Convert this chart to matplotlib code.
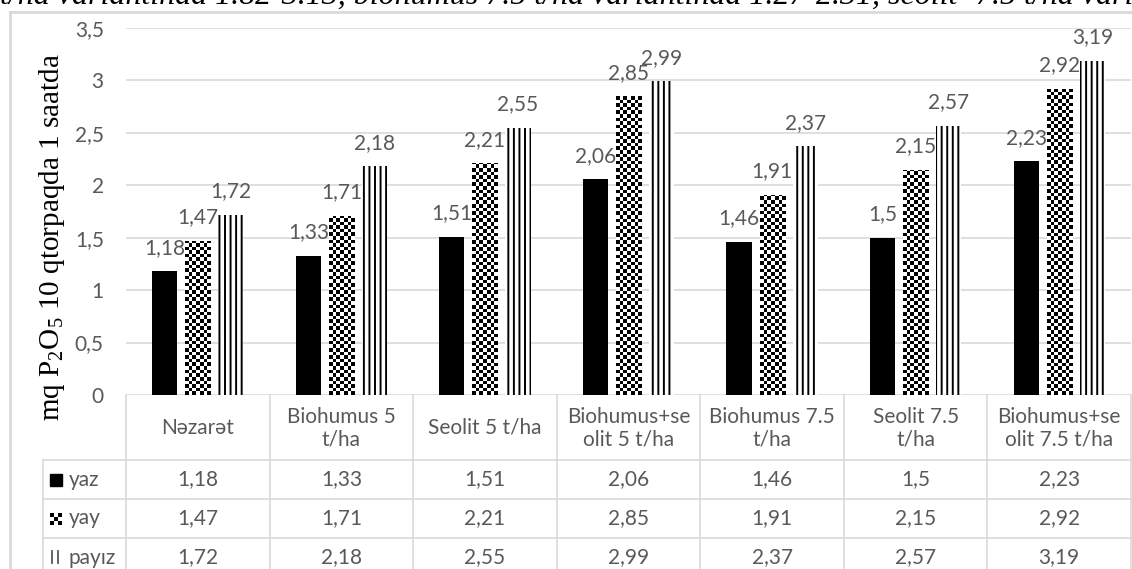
import numpy as np
import matplotlib
matplotlib.use('Agg')
import matplotlib.pyplot as plt
from matplotlib.transforms import blended_transform_factory
from matplotlib.lines import Line2D
from matplotlib.patches import Rectangle

categories = ['Nəzarət', 'Biohumus 5\nt/ha', 'Seolit 5 t/ha', 'Biohumus+se\nolit 5 t/ha',
              'Biohumus 7.5\nt/ha', 'Seolit 7.5\nt/ha', 'Biohumus+se\nolit 7.5 t/ha']
series = ['yaz', 'yay', 'payız']
yaz = [1.18, 1.33, 1.51, 2.06, 1.46, 1.5, 2.23]
yay = [1.47, 1.71, 2.21, 2.85, 1.91, 2.15, 2.92]
payiz = [1.72, 2.18, 2.55, 2.99, 2.37, 2.57, 3.19]
yticks = [0, 0.5, 1, 1.5, 2, 2.5, 3, 3.5]
ylabel = r'mq $\mathregular{P_2O_5}$ 10 qtorpaqda 1 saatda'
top_line = 't/ha variantında 1.82-3.13, biohumus 7.5 t/ha variantında 1.27-2.31, seolit- 7.5 t/ha variantında'

plt.rcParams['font.family'] = ['Lato', 'Open Sans', 'DejaVu Sans']
plt.rcParams['hatch.linewidth'] = 1.4

GRAY = '#595959'
LINE = '#d9d9d9'
FS = 15
W, H = 1132, 569


def fx(px):
    return px / W


def fy(py):
    return 1 - py / H


def fmt(v):
    return ('%g' % v).replace('.', ',')


fig = plt.figure(figsize=(W / 100, H / 100), dpi=100)
ax = fig.add_axes([fx(126), fy(395), (1131 - 126) / W, (395 - 28) / H])

x = np.arange(len(categories))
bw = 0.175
step = 0.23

b1 = ax.bar(x - step, yaz, bw, color='black', zorder=2)
b2 = ax.bar(x, yay, bw, color='white', edgecolor='none', zorder=2)
b3 = ax.bar(x + step, payiz, bw, color='white', edgecolor='black', linewidth=0,
            hatch='|||', zorder=2)

# checkerboard fill for the "yay" bars
cell_y = 3.6 * 3.5 / 367
for rect in b2:
    x0, w, h = rect.get_x(), rect.get_width(), rect.get_height()
    ncol = 7
    nrow = int(np.ceil(h / cell_y))
    arr = np.add.outer(np.arange(nrow), np.arange(ncol)) % 2
    im = ax.imshow(arr, cmap='gray', vmin=0, vmax=1, origin='lower',
                   extent=(x0, x0 + w, 0, nrow * cell_y), aspect='auto',
                   interpolation='nearest', zorder=2)
    im.set_clip_path(rect)

for bars, vals in zip([b1, b2, b3], [yaz, yay, payiz]):
    for rect, v in zip(bars, vals):
        ax.annotate(fmt(v), (rect.get_x() + rect.get_width() / 2, v),
                    xytext=(0, 12.5), textcoords='offset points',
                    ha='center', va='baseline', color=GRAY, fontsize=FS, zorder=4)

ax.set_xlim(-0.5, len(categories) - 0.5)
ax.set_ylim(0, 3.5)
ax.set_yticks(yticks)
ax.set_yticklabels([fmt(t) for t in yticks])
ax.set_xticks([])
ax.tick_params(axis='y', length=0, pad=16, labelsize=FS, labelcolor=GRAY)
ax.yaxis.grid(True, color=LINE, lw=1.2)
ax.set_axisbelow(True)
for s in ax.spines.values():
    s.set_visible(False)

# data table under the plot
tr = blended_transform_factory(ax.transData, fig.transFigure)
rows_px = [395, 460, 499, 538, 577]
for i in range(len(categories) + 1):
    fig.add_artist(Line2D([i - 0.5, i - 0.5], [fy(395), 0], transform=tr, color=LINE, lw=1.2))
for py in rows_px[1:4]:
    fig.add_artist(Line2D([fx(43), fx(1131)], [fy(py), fy(py)], color=LINE, lw=1.2))
fig.add_artist(Line2D([fx(43), fx(43)], [fy(460), 0], color=LINE, lw=1.2))

for i, c in enumerate(categories):
    fig.text(i, fy(428), c, transform=tr, ha='center', va='center', color=GRAY,
             fontsize=FS, linespacing=1.15)

for r, (name, vals) in enumerate(zip(series, [yaz, yay, payiz])):
    yc = fy((rows_px[r + 1] + rows_px[r + 2]) / 2)
    for i, v in enumerate(vals):
        fig.text(i, yc, fmt(v), transform=tr, ha='center', va='center', color=GRAY, fontsize=FS)
    fig.text(fx(69), yc, name, ha='left', va='center', color=GRAY, fontsize=FS)

# legend keys in the table
fig.add_artist(Rectangle((fx(50), fy(486)), 12 / W, 12 / H, color='black'))
key = np.kron(np.add.outer(np.arange(3), np.arange(3)) % 2, np.ones((4, 4)))
fig.figimage(key, xo=50, yo=H - 525, cmap='gray', vmin=0, vmax=1, origin='upper')
for kx in (52, 58):
    fig.add_artist(Line2D([fx(kx), fx(kx)], [fy(551), fy(563)], color=GRAY, lw=1.3))

# outer chart frame
fig.add_artist(Line2D([fx(10), fx(10)], [fy(12), 0], color=LINE, lw=2))
fig.add_artist(Line2D([fx(10), 1], [fy(12), fy(12)], color=LINE, lw=2))

fig.text(fx(52), fy(237), ylabel, rotation=90, ha='center', va='center',
         family='Liberation Serif', fontsize=21, color='black')
fig.text(fx(0), fy(4), top_line, ha='left', va='baseline', family='Liberation Serif',
         style='italic', fontsize=23, color='black')

fig.savefig('out.png', dpi=100)
